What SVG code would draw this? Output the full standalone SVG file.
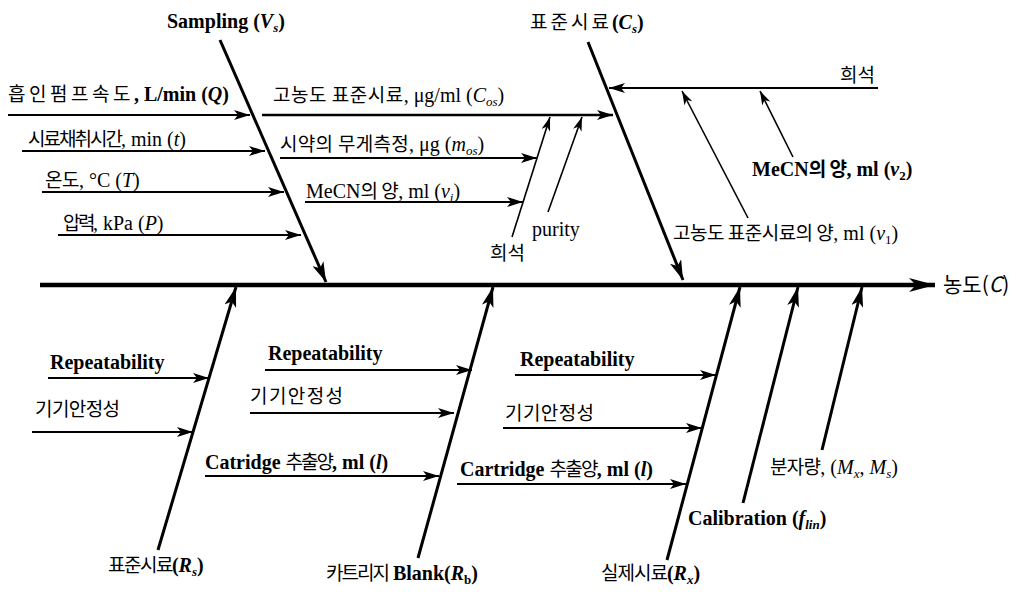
<svg xmlns="http://www.w3.org/2000/svg" width="1028" height="595" viewBox="0 0 1028 595">
<style>
.k{font-family:"Noto Sans CJK KR","Noto Sans",sans-serif;font-size:19px;fill:#000}
.t{font-family:"Liberation Serif","Noto Sans CJK KR",serif;font-size:20px;fill:#000}
.b{font-weight:bold}
.i{font-style:italic}
.sub{font-size:13px}
.ln{stroke:#000;fill:none;stroke-linecap:butt}
.spine{stroke-width:4.5}
.bone{stroke-width:3}
.br{stroke-width:2.2}
.thin{stroke-width:1.6}
</style>
<defs>
<marker id="ahm" viewBox="0 0 26 14" refX="26" refY="7" markerWidth="26" markerHeight="14" markerUnits="userSpaceOnUse" orient="auto"><path d="M0,0 L26,7 L0,14 L7,7 Z"/></marker>
<marker id="ahb" viewBox="0 0 20 12" refX="20" refY="6" markerWidth="20" markerHeight="12" markerUnits="userSpaceOnUse" orient="auto"><path d="M0,0 L20,6 L0,12 L5,6 Z"/></marker>
<marker id="ah" viewBox="0 0 16 10" refX="16" refY="5" markerWidth="16" markerHeight="10" markerUnits="userSpaceOnUse" orient="auto"><path d="M0,0 L16,5 L0,10 L4,5 Z"/></marker>
<marker id="aht" viewBox="0 0 14 9" refX="14" refY="4.5" markerWidth="14" markerHeight="9" markerUnits="userSpaceOnUse" orient="auto"><path d="M0,0 L14,4.5 L0,9 L4,4.5 Z"/></marker>
</defs>
<rect width="1028" height="595" fill="#fff"/>
<g id="connectors">
<path class="ln spine" d="M40,285 L935,285" marker-end="url(#ahm)"/>
<path class="ln bone" d="M220,40 L326,282" marker-end="url(#ahb)"/>
<path class="ln bone" d="M588,42 L683,280" marker-end="url(#ahb)"/>
<path class="ln bone" d="M158,550 L236,287" marker-end="url(#ahb)"/>
<path class="ln bone" d="M418,558 L493,287" marker-end="url(#ahb)"/>
<path class="ln bone" d="M667,560 L740,287" marker-end="url(#ahb)"/>
<path class="ln bone" d="M743,503 L798,287" marker-end="url(#ahb)"/>
<path class="ln bone" d="M822,450 L862,287" marker-end="url(#ahb)"/>
<path class="ln br" d="M8,115 L250,115" marker-end="url(#ah)"/>
<path class="ln br" d="M22,151 L265,151" marker-end="url(#ah)"/>
<path class="ln br" d="M42,192 L284,192" marker-end="url(#ah)"/>
<path class="ln br" d="M58,235 L301,235" marker-end="url(#ah)"/>
<path class="ln br" d="M262,115 L613,115" marker-end="url(#ah)" style="stroke-width:2.6"/>
<path class="ln br" d="M280,158 L537,158" marker-end="url(#ah)"/>
<path class="ln br" d="M305,202 L523,202" marker-end="url(#ah)"/>
<path class="ln thin" d="M512,237 L550,117" marker-end="url(#aht)"/>
<path class="ln thin" d="M548,212 L582,117" marker-end="url(#aht)"/>
<path class="ln br" d="M878,88 L609,88" marker-end="url(#ah)"/>
<path class="ln thin" d="M748,218 L682,91" marker-end="url(#aht)"/>
<path class="ln thin" d="M793,157 L760,91" marker-end="url(#aht)"/>
<path class="ln br" d="M48,378 L209,378" marker-end="url(#ah)"/>
<path class="ln br" d="M32,432 L193,432" marker-end="url(#ah)"/>
<path class="ln br" d="M265,370 L472,370" marker-end="url(#ah)"/>
<path class="ln br" d="M250,413 L454,413" marker-end="url(#ah)"/>
<path class="ln br" d="M205,476 L439,476" marker-end="url(#ah)"/>
<path class="ln br" d="M515,375 L716,375" marker-end="url(#ah)"/>
<path class="ln br" d="M503,428 L702,428" marker-end="url(#ah)"/>
<path class="ln br" d="M457,484 L686,484" marker-end="url(#ah)"/>
</g>
<g id="node-sampling"><text x="167" y="28" class="t b">Sampling (<tspan class="i">V</tspan><tspan class="i sub" dy="4">s</tspan><tspan dy="-4">)</tspan></text></g>
<g id="node-flow"><text x="8" y="101"><tspan class="k" style="letter-spacing:3.5px">흡인펌프속도</tspan><tspan class="t b">, L/min (<tspan class="i">Q</tspan>)</tspan></text></g>
<g id="node-time"><text x="28" y="146"><tspan class="k" style="letter-spacing:-2px">시료채취시간</tspan><tspan class="t">, min (<tspan class="i">t</tspan>)</tspan></text></g>
<g id="node-temp"><text x="45" y="187"><tspan class="k" style="letter-spacing:-0.5px">온도</tspan><tspan class="t">, °C (<tspan class="i">T</tspan>)</tspan></text></g>
<g id="node-press"><text x="63" y="230"><tspan class="k" style="letter-spacing:-2.5px">압력</tspan><tspan class="t">, kPa (<tspan class="i">P</tspan>)</tspan></text></g>
<g id="node-cos"><text x="273" y="102"><tspan class="k" style="letter-spacing:0.5px">고농도 표준시료</tspan><tspan class="t">, μg/ml (<tspan class="i">C</tspan><tspan class="i sub" dy="4">os</tspan><tspan dy="-4">)</tspan></tspan></text></g>
<g id="node-mos"><text x="280" y="151"><tspan class="k" style="letter-spacing:0.3px">시약의 무게측정</tspan><tspan class="t">, μg (<tspan class="i">m</tspan><tspan class="i sub" dy="4">os</tspan><tspan dy="-4">)</tspan></tspan></text></g>
<g id="node-v1a"><text x="306" y="198"><tspan class="t">MeCN</tspan><tspan class="k" style="letter-spacing:-0.5px">의 양</tspan><tspan class="t">, ml (<tspan class="i">v</tspan><tspan class="i sub" dy="4">i</tspan><tspan dy="-4">)</tspan></tspan></text></g>
<g id="node-dil1"><text x="490" y="260" class="k">희석</text></g>
<g id="node-purity"><text x="532" y="236" class="t">purity</text></g>
<g id="node-cs"><text x="530" y="29"><tspan class="k" style="letter-spacing:3px">표준시료</tspan><tspan class="t b">(<tspan class="i">C</tspan><tspan class="i sub" dy="4">s</tspan><tspan dy="-4">)</tspan></tspan></text></g>
<g id="node-dil2"><text x="840" y="82" class="k">희석</text></g>
<g id="node-v2"><text x="752" y="176"><tspan class="t b">MeCN</tspan><tspan class="k b" style="letter-spacing:-0.5px">의 양</tspan><tspan class="t b">, ml (<tspan class="i">v</tspan><tspan class="sub" dy="4">2</tspan><tspan dy="-4">)</tspan></tspan></text></g>
<g id="node-v1b"><text x="673" y="240"><tspan class="k" style="letter-spacing:-0.5px">고농도 표준시료의 양</tspan><tspan class="t">, ml (<tspan class="i">v</tspan><tspan class="sub" dy="4">1</tspan><tspan dy="-4">)</tspan></tspan></text></g>
<g id="node-conc"><text x="943" y="292" class="k" style="font-size:21px">농도(<tspan class="i">C</tspan>)</text></g>
<g id="node-rep1"><text x="50" y="369" class="t b">Repeatability</text></g>
<g id="node-stab1"><text x="35" y="416" class="k" style="letter-spacing:-0.6px">기기안정성</text></g>
<g id="node-rep2"><text x="268" y="360" class="t b">Repeatability</text></g>
<g id="node-stab2"><text x="250" y="403" class="k" style="letter-spacing:1.4px">기기안정성</text></g>
<g id="node-cart1"><text x="205" y="469"><tspan class="t b">Catridge </tspan><tspan class="k" style="letter-spacing:-2px">추출양</tspan><tspan class="t b">, ml (<tspan class="i">l</tspan>)</tspan></text></g>
<g id="node-rep3"><text x="520" y="366" class="t b">Repeatability</text></g>
<g id="node-stab3"><text x="505" y="420" class="k" style="letter-spacing:0.4px">기기안정성</text></g>
<g id="node-cart2"><text x="460" y="476"><tspan class="t b">Cartridge </tspan><tspan class="k" style="letter-spacing:-1.7px">추출양</tspan><tspan class="t b">, ml (<tspan class="i">l</tspan>)</tspan></text></g>
<g id="node-rs"><text x="108" y="572"><tspan class="k" style="letter-spacing:-1.5px">표준시료</tspan><tspan class="t b">(<tspan class="i">R</tspan><tspan class="i sub" dy="4">s</tspan><tspan dy="-4">)</tspan></tspan></text></g>
<g id="node-rb"><text x="326" y="580"><tspan class="k" style="letter-spacing:-2px">카트리지</tspan><tspan class="t b"> Blank(<tspan class="i">R</tspan><tspan class="sub" dy="4">b</tspan><tspan dy="-4">)</tspan></tspan></text></g>
<g id="node-rx"><text x="601" y="580"><tspan class="k" style="letter-spacing:-1px">실제시료</tspan><tspan class="t b">(<tspan class="i">R</tspan><tspan class="i sub" dy="4">x</tspan><tspan dy="-4">)</tspan></tspan></text></g>
<g id="node-cal"><text x="688" y="525" class="t b">Calibration (<tspan class="i">f</tspan><tspan class="i sub" dy="4">lin</tspan><tspan dy="-4">)</tspan></text></g>
<g id="node-mw"><text x="770" y="474"><tspan class="k" style="letter-spacing:-0.7px">분자량</tspan><tspan class="t">, (<tspan class="i">M</tspan><tspan class="i sub" dy="4">x</tspan><tspan dy="-4">, </tspan><tspan class="i">M</tspan><tspan class="i sub" dy="4">s</tspan><tspan dy="-4">)</tspan></tspan></text></g>
</svg>
